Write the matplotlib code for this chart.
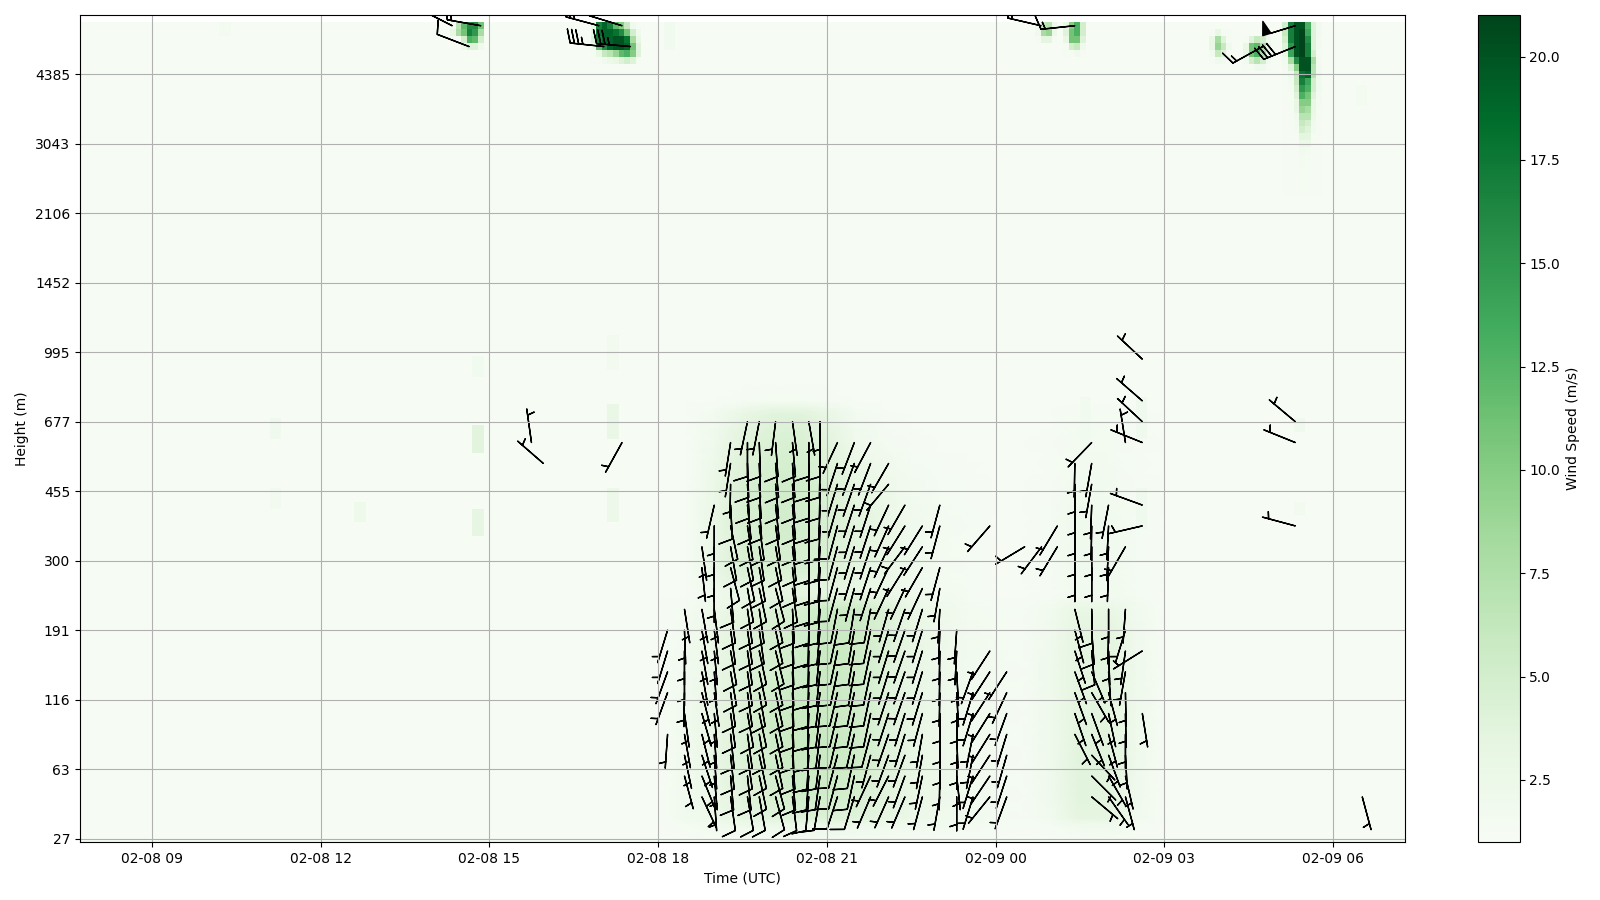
import matplotlib
matplotlib.use("Agg")
import matplotlib.pyplot as plt
import numpy as np

N = None

# hours since 02-08 00:00
tick_hours = [9, 12, 15, 18, 21, 24, 27, 30]
tick_labels = ["02-08 09", "02-08 12", "02-08 15", "02-08 18", "02-08 21",
               "02-09 00", "02-09 03", "02-09 06"]
height_labels = [27, 63, 116, 191, 300, 455, 677, 995, 1452, 2106, 3043, 4385]
height_gates = [0, 10, 20, 30, 40, 50, 60, 70, 80, 90, 100, 110]

background = 1.2

# pale wind speed blob: rows are gates, columns are half hours
blob_hours = [18, 18.5, 19, 19.5, 20, 20.5, 21, 21.5, 22, 22.5, 23, 23.5, 24, 24.5, 25, 25.5, 26, 26.5, 27]
blob_gates = [0, 2, 3, 6, 12, 18, 24, 30, 33, 35, 36, 39, 45, 51, 57, 61, 62, 63, 66]
blob_speed = [
    [1.2, 1.2, 1.3, 1.4, 1.5, 1.5, 1.5, 1.5, 1.4, 1.3, 1.3, 1.3, 1.2, 1.2, 1.2, 1.3, 1.4, 1.3, 1.2],
    [1.2, 1.5, 1.9, 2.2, 2.4, 2.5, 2.5, 2.4, 2.2, 2.0, 1.8, 1.6, 1.5, 1.3, 1.4, 2.0, 2.0, 1.5, 1.2],
    [1.2, 1.8, 2.4, 3.2, 3.8, 4.2, 4.2, 3.9, 3.3, 2.6, 2.1, 1.8, 1.6, 1.3, 1.8, 3.4, 3.4, 1.8, 1.2],
    [1.2, 1.8, 2.6, 3.8, 4.6, 5.2, 5.2, 4.8, 3.8, 2.9, 2.3, 1.9, 1.6, 1.3, 2.0, 3.8, 3.8, 2.0, 1.2],
    [1.2, 1.8, 2.8, 4.2, 5.2, 5.8, 5.8, 5.4, 4.2, 3.1, 2.4, 1.9, 1.6, 1.3, 2.1, 3.8, 3.8, 2.1, 1.2],
    [1.2, 1.8, 2.8, 4.2, 5.4, 5.8, 5.8, 5.4, 4.2, 3.1, 2.4, 1.9, 1.6, 1.3, 2.1, 3.6, 3.6, 2.1, 1.2],
    [1.2, 1.7, 2.8, 4.0, 4.8, 5.4, 5.7, 5.4, 4.2, 3.1, 2.4, 1.9, 1.6, 1.3, 2.1, 3.6, 3.6, 2.1, 1.2],
    [1.2, 1.6, 2.6, 3.8, 4.6, 5.0, 5.8, 5.8, 4.4, 3.1, 2.3, 1.7, 1.5, 1.3, 2.0, 3.4, 3.6, 2.0, 1.2],
    [1.2, 1.4, 2.3, 3.3, 4.2, 4.6, 5.6, 5.6, 4.4, 2.9, 2.2, 1.6, 1.4, 1.3, 1.8, 3.0, 3.0, 1.8, 1.2],
    [1.2, 1.2, 1.9, 2.8, 3.2, 3.4, 3.6, 3.6, 2.8, 2.1, 1.7, 1.4, 1.2, 1.2, 1.3, 1.7, 1.7, 1.4, 1.2],
    [1.2, 1.2, 2.2, 3.4, 3.6, 3.6, 3.4, 3.0, 2.5, 2.0, 1.6, 1.4, 1.2, 1.2, 1.3, 1.8, 1.8, 1.4, 1.2],
    [1.2, 1.2, 2.8, 4.4, 4.6, 4.6, 4.4, 3.6, 2.8, 2.1, 1.6, 1.4, 1.2, 1.2, 1.4, 2.0, 1.9, 1.4, 1.2],
    [1.2, 1.2, 2.8, 4.6, 5.0, 5.2, 4.6, 3.8, 2.9, 2.0, 1.6, 1.4, 1.2, 1.2, 1.4, 2.1, 1.9, 1.4, 1.2],
    [1.2, 1.2, 2.6, 4.4, 5.0, 5.2, 4.4, 3.3, 2.3, 1.7, 1.4, 1.3, 1.2, 1.2, 1.3, 1.8, 1.7, 1.3, 1.2],
    [1.2, 1.2, 2.1, 3.8, 4.4, 4.6, 3.8, 2.2, 1.6, 1.3, 1.2, 1.2, 1.2, 1.2, 1.3, 1.6, 1.6, 1.3, 1.2],
    [1.2, 1.2, 1.7, 3.0, 3.8, 3.9, 3.0, 1.7, 1.3, 1.2, 1.2, 1.2, 1.2, 1.2, 1.2, 1.5, 1.5, 1.3, 1.2],
    [1.2, 1.2, 1.4, 2.2, 2.8, 2.9, 2.3, 1.4, 1.2, 1.2, 1.2, 1.2, 1.2, 1.2, 1.2, 1.3, 1.3, 1.2, 1.2],
    [1.2, 1.2, 1.2, 1.3, 1.5, 1.5, 1.3, 1.2, 1.2, 1.2, 1.2, 1.2, 1.2, 1.2, 1.2, 1.2, 1.2, 1.2, 1.2],
    [1.2] * 19,
]

# strong patches near the top: start hour, top gate, rows of cells from the top down
patch1_hour, patch1_gate = 14.30, 117
patch1 = [[1.5, 7, 12, 16, 16, 11],
          [3, 8, 11, 17, 15, 8],
          [1.3, 1.3, 5, 13, 12, 5],
          [1.3, 1.3, 2.5, 4, 4, 2]]
patch2_hour, patch2_gate = 16.80, 117
patch2 = [[3, 17, 19, 17, 12, 10, 6, 2, 1.5],
          [3, 18, 19, 19, 18, 16, 11, 5, 2],
          [4, 17, 19, 19, 20, 20, 18, 8, 3],
          [2, 12, 16, 19, 20, 20, 19, 11, 4],
          [1.5, 3, 6, 7, 9, 12, 13, 10, 4],
          [1.3, 1.3, 2, 2.5, 3, 4, 5, 4, 1.5]]
patch3_hour, patch3_gate = 24.70, 117
patch3 = [[1.8, 6, 7, 2.5],
          [2, 8, 9, 2.5],
          [1.3, 3.5, 3.5, 1.3]]
patch4_hour, patch4_gate = 25.20, 117
patch4 = [[3, 10, 13, 5],
          [4, 11, 13, 5],
          [3, 11, 11, 4],
          [1.3, 5, 6, 2],
          [1.3, 1.3, 2, 1.3]]
patch5_hour, patch5_gate = 27.80, 116
patch5 = [[1.3, 3, 1.3, 1.3],
          [3, 8, 4, 1.5],
          [3, 9, 6, 2],
          [1.8, 6, 4, 1.5],
          [1.3, 2, 1.8, 1.3]]
patch6_hour, patch6_gate = 28.40, 115
patch6 = [[1.3, 4, 6, 5, 2],
          [3, 11, 12, 8, 3],
          [3, 11, 13, 8, 2.5],
          [1.8, 5, 7, 5, 1.8],
          [1.3, 1.5, 2, 2, 1.3]]
patch7_hour, patch7_gate = 29.10, 117
patch7 = [[5, 17, 20, 20, 13, 4, 1.8],
          [6, 17, 20, 21, 14, 4, 1.8],
          [5, 17, 20, 21, 16, 4, 1.6],
          [4, 15, 20, 21, 17, 4, 1.6],
          [2.5, 14, 20, 21, 17, 5, 1.5],
          [1.8, 8, 16, 20, 20, 8, 1.6],
          [1.6, 4, 10, 20, 20, 7, 1.6],
          [1.5, 2, 6, 18, 19, 7, 1.8],
          [1.3, 1.8, 6, 17, 14, 5, 1.8],
          [1.3, 1.6, 5, 15, 13, 5, 1.8],
          [1.3, 1.5, 4, 13, 11, 4, 1.6],
          [1.3, 1.5, 3, 10, 10, 3, 1.6],
          [1.3, 1.3, 3, 9, 8, 3, 1.5],
          [1.3, 1.3, 2, 7, 7, 2.5, 1.3],
          [1.3, 1.3, 1.8, 6, 5, 2, 1.3],
          [1.3, 1.3, 1.6, 5, 4, 1.8, 1.3],
          [1.3, 1.3, 1.5, 3.5, 3.5, 1.5, 1.3],
          [1.3, 1.3, 1.3, 2.6, 2.6, 1.3, 1.3],
          [1.3, 1.3, 1.3, 1.8, 1.6, 1.3, 1.3],
          [1.3, 1.3, 1.3, 1.6, 1.5, 1.3, 1.3],
          [1.3, 1.3, 1.3, 1.6, 1.5, 1.3, 1.3],
          [1.3, 1.3, 1.3, 1.5, 1.4, 1.3, 1.3],
          [1.3, 1.3, 1.3, 1.5, 1.4, 1.3, 1.3],
          [1.3, 1.3, 1.3, 1.5, 1.4, 1.3, 1.3],
          [1.3, 1.3, 1.3, 1.5, 1.3, 1.3, 1.3]]
patches = [(patch1_hour, patch1_gate, patch1), (patch2_hour, patch2_gate, patch2),
           (patch3_hour, patch3_gate, patch3), (patch4_hour, patch4_gate, patch4),
           (patch5_hour, patch5_gate, patch5), (patch6_hour, patch6_gate, patch6),
           (patch7_hour, patch7_gate, patch7)]

# faint streaks: hour, lowest gate, highest gate, speed
streak_hour = [17.1, 17.1, 17.1, 14.7, 14.7, 14.7, 12.6, 11.1, 11.1, 25.5, 26.5, 26.5, 29.3, 29.3, 30.4, 10.2, 18.1]
streak_low = [68, 58, 46, 67, 56, 44, 46, 58, 48, 58, 58, 45, 59, 47, 106, 116, 114]
streak_high = [72, 62, 50, 69, 59, 47, 48, 60, 50, 63, 63, 50, 60, 48, 108, 117, 117]
streak_speed = [1.7, 2.8, 2.4, 1.9, 3.8, 3.2, 2.2, 2.0, 1.7, 1.8, 2.0, 2.0, 2.0, 1.7, 1.6, 1.6, 1.8]

# barb columns: hour, top gate, staff direction every 3 gates going down, gates with full barbs
col_hour = [18.17, 18.47, 18.78, 19.0, 19.29, 19.59, 19.8, 20.09, 20.39, 20.68, 20.88,
            21.19, 21.49, 21.78, 22.1, 22.39, 22.7, 23.01, 23.31, 23.6, 23.9, 24.2,
            24.52, 24.82, 25.1, 25.41, 25.71, 26.01, 26.31, 26.61, 29.33, 30.52, 15.96, 15.75, 17.36]
col_top = [30, 33, 42, 48, 57, 60, 60, 60, 60, 60, 60,
           57, 57, 57, 54, 48, 45, 48, 30, 24, 45, 24,
           42, 42, 45, 54, 57, 48, 57, 69, 60, 6, 54, 57, 57]
col_dirs = [
    [197, 197, 200, 200, N, 184],
    [171, 178, 180, 180, 181, 172, 170, 168, 165],
    [172, 174, N, 170, 170, 170, 170, 166, 164, 166, 162, 158, 155],
    [193, 180, 180, 180, 180, 173, 173, 175, 176, 172, 175, 176, 176, 175, 176],
    [189, 189, 181, 177, 168, 170, 165, 175, 172, 172, 170, 170, 172, 172, 174, 174, 175, 172],
    [192, 180, 178, 177, 174, 171, 170, 168, 170, 172, 172, 172, 172, 172, 170, 172, 172, 174, 170],
    [191, 178, 178, 177, 176, 172, 172, 170, 168, 172, 172, 168, 168, 170, 168, 170, 168, 168, 170],
    [187, 176, 175, 175, 174, 172, 170, 168, 165, 168, 168, 166, 168, 168, 168, 168, 168, 165, 165],
    [172, 175, 176, 176, 175, 175, 174, 174, 172, 177, 178, 178, 178, 178, 178, 178, 176, 175, 173],
    [170, 180, 180, 180, 180, 180, 180, 180, 180, 180, 181, 181, 181, 182, 182, 182, 183, 184, 185],
    [180, 180, 181, 181, 182, 182, 183, 183, 183, 184, 185, 186, 186, 187, 187, 187, 187, 188, 190],
    [205, 198, 197, 196, 195, 195, 195, 195, 191, 192, 192, 192, 193, 193, 193, 195, 195, 198],
    [201, 200, 199, 198, 197, 197, 197, 195, 189, 190, 190, 190, 192, 192, 193, 192, 192, 197],
    [208, 201, 200, 198, 198, 198, 198, 198, 191, 192, 192, 192, 192, 192, 195, 195, 205, 203],
    [210, 220, 205, 204, 205, 205, 205, 196, 197, 197, 197, 198, 198, 199, 200, 207, 204],
    [210, 212, 217, 212, 205, 199, 199, 199, 199, 199, 197, 197, 200, 200, 203],
    [212, 213, 210, 205, 197, 197, 197, 197, 197, 195, 190, 190, 192, 195],
    [195, 195, N, 195, 190, 183, 182, 181, 181, 181, 180, 180, 180, 181, 190],
    [184, 183, 177, 177, 179, 178, 180, 174, 180],
    [200, 197, 197, 191, 191, 197, 197],
    [221, N, N, N, N, N, 213, 213, 213, 212, 212, 213, 214, 219],
    [213, 205, 200, 197, 196, 198, 200],
    [239],
    [217],
    [211, 211],
    [181, 180, 180, 180, 180, 180, N, 166, 165, 162, 160, 160, 161, 153],
    [224, 190, 190, 182, 181, 180, 180, N, 179, 176, 175, 157, 150, 160, 158, 137, 135, 130],
    [191, 183, 183, 182, N, 180, 181, 178, 176, 165, 168, 165, 160, 150, 145],
    [351, N, N, N, N, 210, N, N, 184, 197, 188, 190, 179, 179, 180, 177, 167, 165],
    [313, N, 311, 313, 292, N, N, 290, 257, N, N, N, N, N, 238, N, N, 171],
    [310, 292, N, N, N, 285],
    [165],
    [311],
    [352],
    [209],
]
col_full_low = [N, N, N, N, 6, 6, 6, 6, 6, 6, 6, 6, 6, 15, N, N, N, N, N, N, N, N,
                N, N, N, N, 27, N, N, N, N, N, N, N, N]
col_full_high = [N, N, N, N, 48, 57, 57, 57, 57, 57, 57, 45, 33, 33, N, N, N, N, N, N, N, N,
                 N, N, N, N, 33, N, N, N, N, N, N, N, N]

# single strong barbs at the top of the plot
top_hour = [14.85, 14.64, 14.34, 17.51, 17.04, 17.36, 16.95, 25.41, 24.81, 29.33, 29.33, 28.75]
top_gate = [117, 114, 117, 114, 114, 117, 117, 117, 117, 117, 114, 114]
top_dir = [280, 291, 297, 275, 276, 287, 285, 264, 283, 253, 248, 241]
top_speed = [15, 10, 25, 35, 35, 15, 30, 15, 20, 50, 40, 15]

# build the cell grid
time_edges = np.arange(7.7, 31.31, 0.1)
gate_edges = np.arange(-0.5, 118, 1.0)
base = np.full((len(gate_edges) - 1, len(time_edges) - 1), background)
detail = np.full(base.shape, np.nan)
for hour, gate, rows in patches:
    col = int(round((hour - 7.7) / 0.1))
    for r, row in enumerate(rows):
        detail[gate - r, col:col + len(row)] = row
for hour, low, high, speed in zip(streak_hour, streak_low, streak_high, streak_speed):
    col = int(round((hour - 7.7) / 0.1))
    detail[low:high + 1, col:col + 2] = speed

# barb positions
bx, by, bdir, bspd = [], [], [], []
for hour, top, dirs, low, high in zip(col_hour, col_top, col_dirs, col_full_low, col_full_high):
    for k, d in enumerate(dirs):
        if d is None:
            continue
        gate = top - 3 * k
        bx.append(hour)
        by.append(gate)
        bdir.append(d)
        bspd.append(11 if low is not None and low <= gate <= high else 6)
bx += top_hour
by += top_gate
bdir += top_dir
bspd += top_speed
theta = np.deg2rad(bdir)
u = -np.array(bspd) * np.sin(theta)
v = -np.array(bspd) * np.cos(theta)

fig = plt.figure(figsize=(16, 9), dpi=100)
ax = fig.add_axes([79.8 / 1600, 58 / 900, (1405 - 79.8) / 1600, (842 - 15.3) / 900])
cax = fig.add_axes([1477.5 / 1600, 58 / 900, 42 / 1600, (842 - 15.3) / 900])

mesh = ax.pcolormesh(time_edges, gate_edges, base, cmap="Greens", vmin=1, vmax=21)
ax.pcolormesh(blob_hours, blob_gates, np.array(blob_speed), cmap="Greens", vmin=1, vmax=21, shading="gouraud")
ax.pcolormesh(time_edges, gate_edges, np.ma.masked_invalid(detail), cmap="Greens", vmin=1, vmax=21)
ax.barbs(bx, by, u, v, color="black")

ax.set_xlim(7.72, 31.28)
ax.set_ylim(-0.5, 118.5)
ax.set_xticks(tick_hours)
ax.set_xticklabels(tick_labels)
ax.set_yticks(height_gates)
ax.set_yticklabels(height_labels)
ax.set_xlabel("Time (UTC)")
ax.set_ylabel("Height (m)")
ax.grid(True)

fig.colorbar(mesh, cax=cax, label="Wind Speed (m/s)")

fig.savefig("out.png", dpi=100)
